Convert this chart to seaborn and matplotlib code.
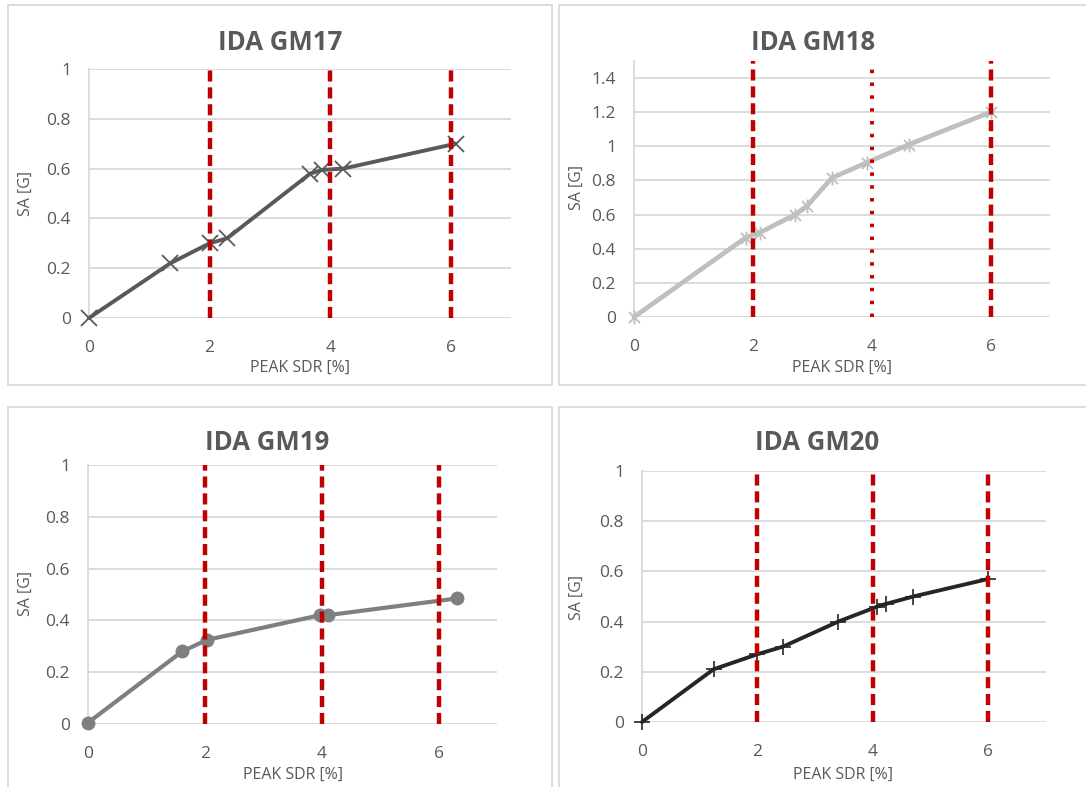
import matplotlib
matplotlib.use("Agg")
import matplotlib.pyplot as plt
from matplotlib.patches import Rectangle
from matplotlib.path import Path
import seaborn as sns

# IDA curves: peak storey drift ratio [%] vs spectral acceleration [g]
gm17_sdr = [0.0, 1.35, 2.0, 2.29, 3.67, 3.87, 4.22, 6.08]
gm17_sa = [0.0, 0.22, 0.30, 0.32, 0.58, 0.595, 0.60, 0.70]

gm18_sdr = [0.0, 1.88, 2.12, 2.71, 2.91, 3.33, 3.92, 4.62, 6.0]
gm18_sa = [0.0, 0.465, 0.495, 0.60, 0.65, 0.815, 0.905, 1.01, 1.20]

gm19_sdr = [0.0, 1.61, 2.04, 3.97, 4.10, 6.32]
gm19_sa = [0.005, 0.28, 0.325, 0.42, 0.42, 0.485]

gm20_sdr = [0.0, 1.24, 2.0, 2.44, 3.40, 4.08, 4.22, 4.70, 6.0]
gm20_sa = [0.0, 0.21, 0.27, 0.30, 0.40, 0.46, 0.47, 0.50, 0.57]

titles = ["IDA GM17", "IDA GM18", "IDA GM19", "IDA GM20"]
limit_sdr = [2, 4, 6]
x_ticks = [0, 2, 4, 6]

sns.set_style("white")
plt.rcParams["font.family"] = ["Open Sans", "DejaVu Sans"]

W, H = 1086, 787
fig = plt.figure(figsize=(W / 100, H / 100), dpi=100)
fig.patch.set_facecolor("white")

TXT = "#595959"
GRID = "#d9d9d9"
RED = "#c00000"

# asterisk marker: an X with a vertical stroke
ast = Path([(-1, -1), (1, 1), (-1, 1), (1, -1), (0, -1.25), (0, 1.25)],
           [Path.MOVETO, Path.LINETO, Path.MOVETO, Path.LINETO, Path.MOVETO, Path.LINETO])


def px_rect(x0, y0, x1, y1):
    return [x0 / W, 1 - y1 / H, (x1 - x0) / W, (y1 - y0) / H]


# panel frames
for (x0, y0, x1, y1) in [(8, 5, 552, 385), (559, 5, 1090, 385),
                         (8, 407, 552, 800), (559, 407, 1090, 800)]:
    fig.patches.append(Rectangle((x0 / W, 1 - y1 / H), (x1 - x0) / W, (y1 - y0) / H,
                                 transform=fig.transFigure, fill=False,
                                 edgecolor=GRID, linewidth=1.3, zorder=0))

panels = [
    dict(rect=(89, 69, 511, 318), x=gm17_sdr, y=gm17_sa, ymax=1.0, yt=[0, 0.2, 0.4, 0.6, 0.8, 1],
         color="#595959", marker="x", ms=12, mew=1.3, lw=2.8, styles=["d", "d", "d"],
         title=(280, 42), xlab=(300, 368), ylab=(26, 193)),
    dict(rect=(634, 61, 1050, 317), x=gm18_sdr, y=gm18_sa, ymax=1.5,
         yt=[0, 0.2, 0.4, 0.6, 0.8, 1, 1.2, 1.4],
         color="#bfbfbf", marker=ast, ms=10, mew=1.3, lw=3.4, styles=["d", "o", "d"],
         title=(813, 42), xlab=(842, 368), ylab=(577, 188)),
    dict(rect=(88, 465, 497, 724), x=gm19_sdr, y=gm19_sa, ymax=1.0, yt=[0, 0.2, 0.4, 0.6, 0.8, 1],
         color="#7f7f7f", marker="o", ms=10, mew=0, lw=3.0, styles=["d", "d", "d"],
         title=(267, 443), xlab=(293, 775), ylab=(26, 593)),
    dict(rect=(642, 471, 1046, 722), x=gm20_sdr, y=gm20_sa, ymax=1.0, yt=[0, 0.2, 0.4, 0.6, 0.8, 1],
         color="#262626", marker="+", ms=12, mew=1.2, lw=2.8, styles=["d", "d", "d"],
         title=(817, 443), xlab=(843, 775), ylab=(577, 598)),
]

for p, title in zip(panels, titles):
    ax = fig.add_axes(px_rect(*p["rect"]))
    ax.set_xlim(0, 7)
    ax.set_ylim(0, p["ymax"])
    ax.set_xticks(x_ticks)
    ax.set_yticks(p["yt"])
    ax.set_xticklabels([f"{t:g}" for t in x_ticks])
    ax.set_yticklabels([f"{t:g}" for t in p["yt"]])
    ax.yaxis.grid(True, color=GRID, linewidth=1.3)
    ax.xaxis.grid(False)
    for s in ["top", "right", "bottom"]:
        ax.spines[s].set_visible(False)
    ax.spines["left"].set_color(GRID)
    ax.spines["left"].set_linewidth(1.3)
    ax.tick_params(axis="both", length=0, labelsize=12.5, labelcolor=TXT)
    ax.tick_params(axis="x", pad=16)
    ax.tick_params(axis="y", pad=13)
    ax.set_facecolor("none")

    # drift limit lines
    for xv, st in zip(limit_sdr, p["styles"]):
        if st == "d":
            ax.vlines(xv, 0, p["ymax"], colors=RED, linewidth=3.2,
                      linestyles=(0, (2.5, 1.3)), zorder=4)
        else:
            ax.vlines(xv, 0, p["ymax"], colors=RED, linewidth=2.8,
                      linestyles=(0, (0.9, 2.4)), zorder=4)

    sns.lineplot(x=p["x"], y=p["y"], ax=ax, sort=False, estimator=None,
                 color=p["color"], linewidth=p["lw"], marker=p["marker"],
                 markersize=p["ms"], markeredgewidth=p["mew"],
                 markeredgecolor=p["color"], markerfacecolor=p["color"],
                 zorder=3, clip_on=False)
    ax.set_xlabel("")
    ax.set_ylabel("")

    fig.text(p["title"][0] / W, 1 - p["title"][1] / H, title, ha="center", va="center",
             fontsize=18.5, fontweight="bold", color=TXT)
    fig.text(p["xlab"][0] / W, 1 - p["xlab"][1] / H, "PEAK SDR [%]", ha="center", va="center",
             fontsize=11.5, color=TXT)
    fig.text(p["ylab"][0] / W, 1 - p["ylab"][1] / H, "SA [G]", ha="center", va="center",
             fontsize=11.5, color=TXT, rotation=90)

fig.savefig("out.png", dpi=100, facecolor="white")
